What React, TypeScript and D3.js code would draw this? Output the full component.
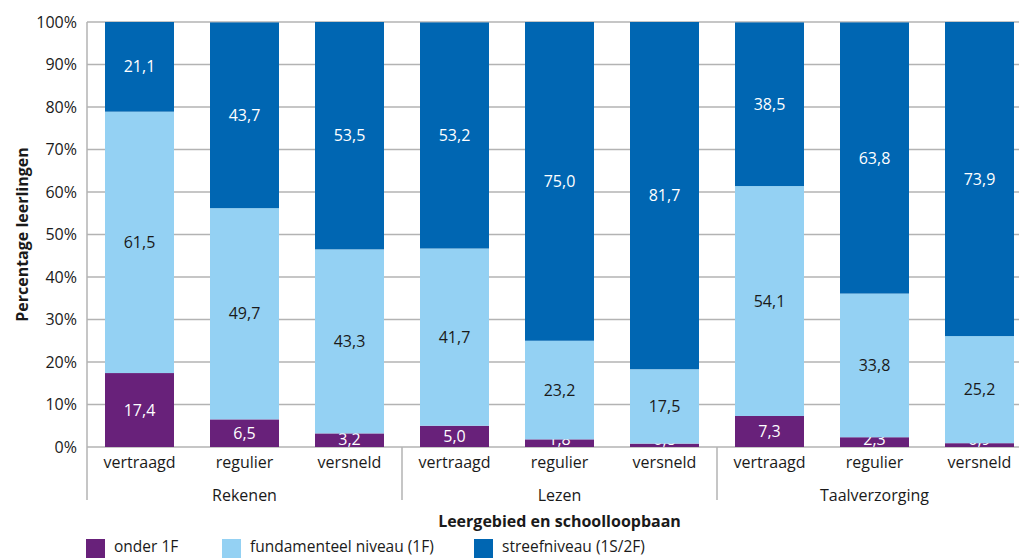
import React from "react";
import * as d3 from "d3";

const groups = ["Rekenen", "Lezen", "Taalverzorging"];
const subCategories = ["vertraagd", "regulier", "versneld"];
const onder1F = [17.4, 6.5, 3.2, 5.0, 1.8, 0.8, 7.3, 2.3, 0.9];
const fundamenteel = [61.5, 49.7, 43.3, 41.7, 23.2, 17.5, 54.1, 33.8, 25.2];
const streef = [21.1, 43.7, 53.5, 53.2, 75.0, 81.7, 38.5, 63.8, 73.9];
const seriesNames = ["onder 1F", "fundamenteel niveau (1F)", "streefniveau (1S/2F)"];
const yTicks = [0, 10, 20, 30, 40, 50, 60, 70, 80, 90, 100];

const colors = ["#68217a", "#94d1f3", "#0066b2"];
const labelColors = ["#ffffff", "#1a1a1a", "#ffffff"];
const FONT = "'Open Sans', 'Noto Sans', sans-serif";
const FS = 16;

export default function App() {
  const W = 1019, H = 558;
  const left = 87, top = 22, bottom = 447;
  const nCats = groups.length * subCategories.length;
  const bandW = 105;
  const right = left + bandW * nCats;
  const catIdx = d3.range(nCats).map(String);
  const x = d3.scaleBand<string>().domain(catIdx).range([left, right]).paddingInner(36 / 105).paddingOuter(18 / 105);
  const y = d3.scaleLinear().domain([0, 100]).range([bottom, top]);
  const series = [onder1F, fundamenteel, streef];
  const rows = catIdx.map((c, i) => ({ c, s0: onder1F[i], s1: fundamenteel[i], s2: streef[i] }));
  const stack = d3.stack<any>().keys(["s0", "s1", "s2"])(rows);
  const fmt = (v: number) => v.toFixed(1).replace(".", ",");
  const groupW = bandW * subCategories.length;

  return (
    <svg width={W} height={H} style={{ position: "absolute", left: 0, top: 0, fontFamily: FONT }}>
      {yTicks.map((t) => (
        <g key={t}>
          <line x1={left} x2={W} y1={y(t)} y2={y(t)} stroke="#b3b3b3" strokeWidth={1.5} />
          <text x={77} y={y(t)} dy="0.35em" textAnchor="end" fontSize={FS} fill="#1a1a1a">{t}%</text>
        </g>
      ))}
      {stack.map((layer, si) => (
        <g key={si}>
          {layer.map((d, i) => {
            const cy = Math.min((y(d[0]) + y(d[1])) / 2, bottom - 8);
            return (
              <g key={i}>
                <rect x={x(catIdx[i])} width={x.bandwidth()} y={y(d[1])} height={y(d[0]) - y(d[1])} fill={colors[si]} />
                <text x={(x(catIdx[i]) as number) + x.bandwidth() / 2} y={cy} dy="0.35em" textAnchor="middle" fontSize={FS} fill={labelColors[si]}>
                  {fmt(series[si][i])}
                </text>
              </g>
            );
          })}
        </g>
      ))}
      <line x1={left} x2={left} y1={top} y2={500} stroke="#b3b3b3" strokeWidth={1.5} />
      {d3.range(1, groups.length + 1).map((g) => (
        <line key={g} x1={left + g * groupW} x2={left + g * groupW} y1={bottom} y2={500} stroke="#b3b3b3" strokeWidth={1.5} />
      ))}
      {catIdx.map((c, i) => (
        <text key={c} x={(x(c) as number) + x.bandwidth() / 2} y={462} dy="0.35em" textAnchor="middle" fontSize={FS} fill="#1a1a1a">
          {subCategories[i % subCategories.length]}
        </text>
      ))}
      {groups.map((g, gi) => (
        <text key={g} x={left + gi * groupW + groupW / 2} y={495} dy="0.35em" textAnchor="middle" fontSize={FS} fill="#1a1a1a">{g}</text>
      ))}
      <text x={(left + right) / 2} y={521} dy="0.35em" textAnchor="middle" fontSize={FS} fontWeight="bold" fill="#1a1a1a">Leergebied en schoolloopbaan</text>
      <text transform={`translate(22,${(top + bottom) / 2}) rotate(-90)`} dy="0.35em" textAnchor="middle" fontSize={FS} fontWeight="bold" fill="#1a1a1a">Percentage leerlingen</text>
      {seriesNames.map((n, i) => {
        const lx = [86, 222, 474][i];
        return (
          <g key={n}>
            <rect x={lx} y={539} width={19} height={19} fill={colors[i]} />
            <text x={lx + 28} y={547} dy="0.35em" fontSize={FS - 0.5} fill="#1a1a1a">{n}</text>
          </g>
        );
      })}
    </svg>
  );
}
